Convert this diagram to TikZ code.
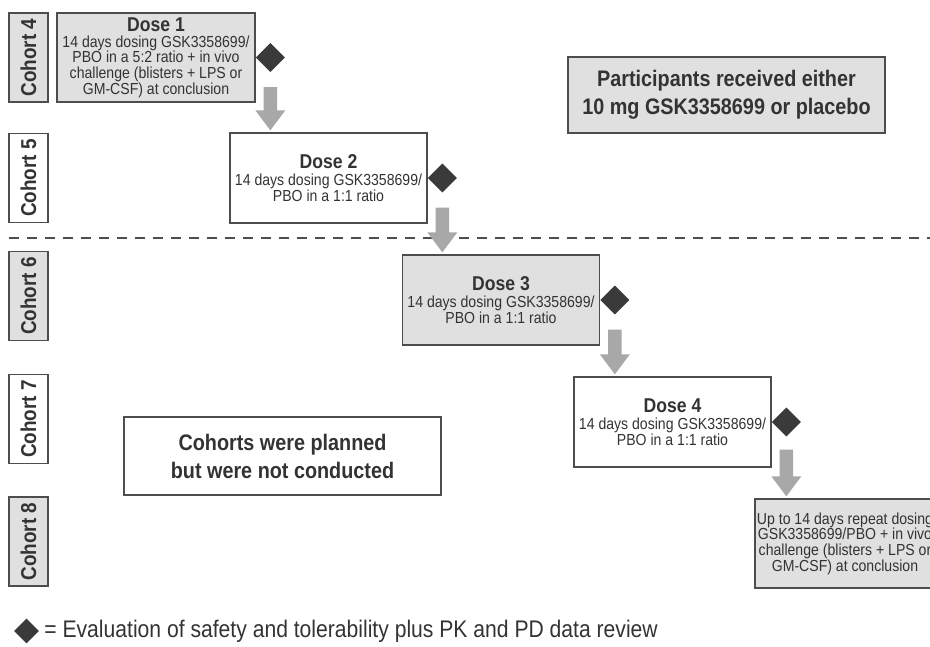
\documentclass[tikz,border=0pt]{standalone}
\usepackage{fontspec}
\setmainfont{Liberation Sans}[FakeStretch=0.88]
\usetikzlibrary{shapes.geometric,calc}
\definecolor{boxgray}{HTML}{E0E0E0}
\definecolor{edgegray}{HTML}{4D4D4D}
\definecolor{arrgray}{HTML}{A8A8A8}
\definecolor{diagray}{HTML}{3A3A3A}
\definecolor{txtgray}{HTML}{333333}
\newcommand\blockarr[2]{\fill[arrgray] let \p1=(#1), \p2=(#2) in
 (\x1-6.75pt,\y1) -- (\x1+6.75pt,\y1) -- (\x1+6.75pt,\y2+22pt) -- (\x1+15pt,\y2+22pt)
 -- (\x1,\y2+2pt) -- (\x1-15pt,\y2+22pt) -- (\x1-6.75pt,\y2+22pt) -- cycle;}
\newcommand\dosehd[1]{{\fontsize{20}{18}\selectfont\bfseries #1}}
\begin{document}
\begin{tikzpicture}[x=1pt,y=-1pt,
  cohort/.style={draw=edgegray, line width=1.3pt, rotate=90, minimum width=89pt,
    minimum height=39pt, inner sep=0pt, text=txtgray,
    font=\fontsize{21.5}{22}\selectfont\bfseries},
  gcohort/.style={cohort, fill=boxgray},
  dosebox/.style={draw=edgegray, line width=1.3pt, minimum width=197pt,
    minimum height=90pt, inner sep=2pt, align=center, text=txtgray,
    font=\fontsize{16}{15.7}\selectfont},
  gdosebox/.style={dosebox, fill=boxgray},
  infobox/.style={draw=edgegray, line width=1.3pt, minimum width=317pt,
    inner sep=2pt, align=center, text=txtgray,
    font=\fontsize{22.5}{28}\selectfont\bfseries},
  evaldia/.style={diamond, fill=diagray, minimum size=29pt, inner sep=0pt, anchor=west}
]
\useasboundingbox (0,0) rectangle (930,646);
\clip (0,0) rectangle (930,646);

% cohort labels
\node[gcohort] (c4) at (28.5,57.5) {Cohort 4};
\node[cohort]  (c5) at (28.5,178) {Cohort 5};
\node[gcohort] (c6) at (28.5,296) {Cohort 6};
\node[cohort]  (c7) at (28.5,419) {Cohort 7};
\node[gcohort] (c8) at (28.5,541.5) {Cohort 8};

% dashed separator
\coordinate (dl) at (9,238);
\coordinate (dr) at (930,238);
\draw[edgegray, line width=1.5pt, dash pattern=on 10pt off 8pt] (dl) -- (dr);

% dose boxes
\node[gdosebox, minimum width=198pt, minimum height=89pt] (dose1) at (156,57.5)
  {\dosehd{Dose 1}\\14 days dosing GSK3358699/\\PBO in a 5:2 ratio + in vivo\\challenge (blisters + LPS or\\GM-CSF) at conclusion};
\node[dosebox] (dose2) at (328.5,178)
  {\dosehd{Dose 2}\\[1pt]14 days dosing GSK3358699/\\PBO in a 1:1 ratio};
\node[gdosebox] (dose3) at (501,300)
  {\dosehd{Dose 3}\\[1pt]14 days dosing GSK3358699/\\PBO in a 1:1 ratio};
\node[dosebox] (dose4) at (672.5,422)
  {\dosehd{Dose 4}\\[1pt]14 days dosing GSK3358699/\\PBO in a 1:1 ratio};
\node[gdosebox, minimum width=180pt, minimum height=89pt] (final) at (845,543.5)
  {Up to 14 days repeat dosing\\GSK3358699/PBO + in vivo\\challenge (blisters + LPS or\\GM-CSF) at conclusion};

% evaluation diamonds
\node[evaldia] (d1) at (dose1.east) {};
\node[evaldia] (d2) at (dose2.east) {};
\node[evaldia] (d3) at (dose3.east) {};
\node[evaldia] (d4) at (dose4.east) {};

% block arrows
\blockarr{[yshift=-15pt]d1.south}{dose2.north -| d1}
\blockarr{[yshift=-15pt]d2.south}{dose3.north -| d2}
\blockarr{[yshift=-15pt]d3.south}{dose4.north -| d3}
\blockarr{[yshift=-13pt]d4.south}{final.north -| d4}

% info boxes
\node[infobox, fill=boxgray, minimum height=76pt] (part) at (726.5,95)
  {Participants received either\\10 mg GSK3358699 or placebo};
\node[infobox, minimum height=78pt] (planned) at (282.5,456)
  {Cohorts were planned\\but were not conducted};

% legend
\node[diamond, fill=diagray, minimum size=25pt, inner sep=0pt] (ldia) at (26.5,631) {};
\node[anchor=west, inner sep=0pt, text=txtgray, font=\fontsize{24}{25}\selectfont]
  (ltext) at ([xshift=5pt]ldia.east) {= Evaluation of safety and tolerability plus PK and PD data review};
\end{tikzpicture}
\end{document}
